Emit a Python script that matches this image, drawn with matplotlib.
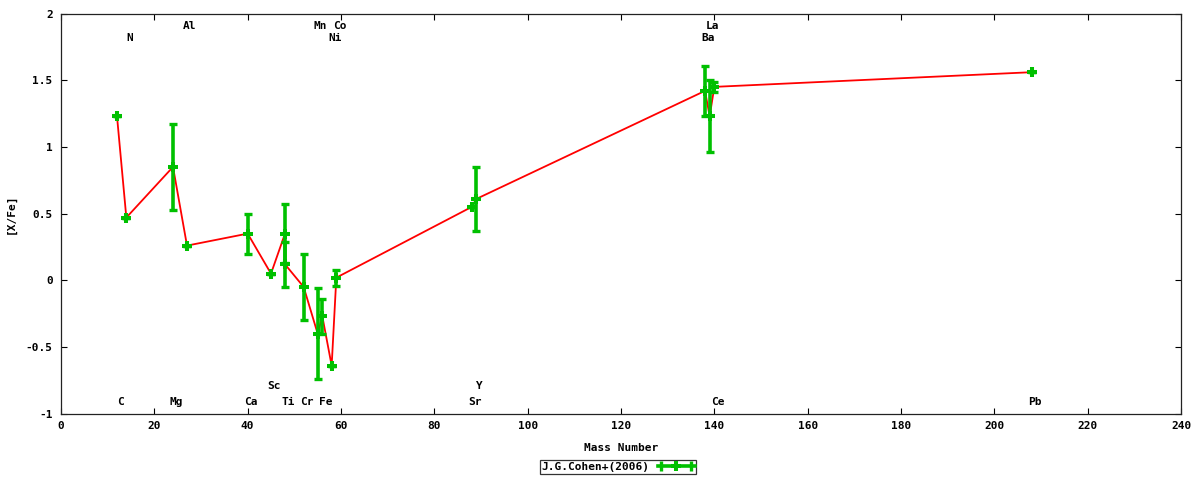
import matplotlib
matplotlib.use("Agg")
import matplotlib.pyplot as plt
from matplotlib.lines import Line2D
from matplotlib.legend_handler import HandlerLine2D, HandlerTuple
import matplotlib.transforms as mtransforms

# abundance ratios, ordered by mass number
mass = [12, 14, 24, 27, 40, 45, 48, 48, 52, 55, 56, 58, 59, 88, 89, 138, 139, 140, 208]
xfe = [1.23, 0.47, 0.85, 0.26, 0.35, 0.05, 0.35, 0.12, -0.05, -0.40, -0.27, -0.64,
       0.02, 0.55, 0.61, 1.42, 1.23, 1.45, 1.56]
err = [0, 0, 0.32, 0, 0.15, 0, 0.22, 0.17, 0.25, 0.34, 0.13, 0, 0.06, 0, 0.24,
       0.19, 0.27, 0.04, 0]

# element labels: name, mass number, row
elem_names = ["C", "Mg", "Ca", "Ti", "Cr", "Fe", "Sr", "Ce", "Pb",
              "Sc", "Y",
              "N", "Ni", "Ba",
              "Al", "Mn", "Co", "La"]
elem_mass = [12, 24, 40, 48, 52, 56, 88, 140, 208,
             45, 89,
             14, 58, 138,
             27, 55, 59, 139]
elem_row = [-0.915] * 9 + [-0.796] * 2 + [1.817] * 3 + [1.906] * 4

yticks = [-1, -0.5, 0, 0.5, 1, 1.5, 2]
xticks = list(range(0, 241, 20))

green = "#00c000"
red = "#ff0000"

plt.rcParams["font.family"] = ["DejaVu Sans Mono"]
plt.rcParams["font.weight"] = "bold"
plt.rcParams["font.size"] = 8
plt.rcParams["axes.unicode_minus"] = False

fig = plt.figure(figsize=(12, 4.8), dpi=100)
ax = fig.add_axes([61 / 1200, (480 - 413.7) / 480, 1120 / 1200, 400.2 / 480])

ax.plot(mass, xfe, color=red, lw=1.3, zorder=2)
ax.errorbar(mass, xfe, yerr=err, fmt="none", ecolor=green, elinewidth=2.6,
            capsize=3.0, capthick=2.4, zorder=3)
ax.plot(mass, xfe, linestyle="none", marker="+", markersize=7.5,
        markeredgewidth=2.9, color=green, zorder=4)

offset = mtransforms.offset_copy(ax.transData, fig=fig, x=2.2, y=0, units="points")
for name, m, row in zip(elem_names, elem_mass, elem_row):
    ax.text(m, row, name, transform=offset, ha="center", va="center",
            fontsize=8, fontweight="bold")

ax.set_xlim(0, 240)
ax.set_ylim(-1, 2)
ax.set_xticks(xticks)
ax.set_yticks(yticks)
ax.set_yticklabels(["%g" % v for v in yticks])
ax.tick_params(direction="in", length=4, width=0.8, top=True, right=True,
               labelsize=8)
ax.tick_params(axis="y", pad=6)
ax.tick_params(axis="x", pad=5)
for s in ax.spines.values():
    s.set_linewidth(0.9)
    s.set_color("#222222")

ax.set_xlabel("Mass Number", fontsize=8, fontweight="bold", labelpad=9)
ax.set_ylabel("[X/Fe]", fontsize=8, fontweight="bold", labelpad=7)

# gnuplot-like key sample: horizontal bar with end ticks and a centre cross
bar = Line2D([], [], color=green, lw=2.6)
caps = Line2D([], [], color=green, lw=0, marker="|", markersize=7, markeredgewidth=2.4)
cross = Line2D([], [], color=green, lw=0, marker="+", markersize=7.5, markeredgewidth=2.9)
leg = fig.legend([(bar, caps, cross)], ["J.G.Cohen+(2006)"],
                 handler_map={caps: HandlerLine2D(numpoints=2),
                              cross: HandlerLine2D(numpoints=1),
                              tuple: HandlerTuple(ndivide=1)},
                 loc="center", bbox_to_anchor=(618 / 1200, 13 / 480),
                 markerfirst=False, frameon=True, fancybox=False,
                 borderpad=0.15, handlelength=3.3, handletextpad=0.8,
                 borderaxespad=0, prop={"family": "DejaVu Sans Mono",
                                        "weight": "bold", "size": 8})
leg.get_frame().set_edgecolor("black")
leg.get_frame().set_linewidth(0.9)

fig.savefig("out.png", dpi=100)
